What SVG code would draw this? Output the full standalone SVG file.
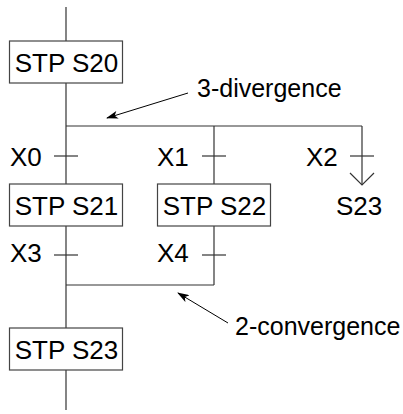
<svg xmlns="http://www.w3.org/2000/svg" width="403" height="414" viewBox="0 0 403 414">
<defs>
<style>
.ln{stroke:#333;stroke-width:1.2;fill:none}
.box{fill:#fff;stroke:#444;stroke-width:1.2}
.t{font-family:"Liberation Sans",Arial,sans-serif;font-size:26px;fill:#000}
.l{font-size:25px}
.c{text-anchor:middle}
</style>
<marker id="ah" markerWidth="12" markerHeight="8" refX="11" refY="4" orient="auto" markerUnits="userSpaceOnUse">
<path d="M0,0 L12,4 L0,8 L3,4 Z" fill="#000"/>
</marker>
</defs>
<rect width="403" height="414" fill="#fff"/>
<g id="connectors">
<line class="ln" x1="66" y1="7" x2="66" y2="41"/>
<line class="ln" x1="66" y1="83" x2="66" y2="184"/>
<line class="ln" x1="66" y1="126" x2="362" y2="126"/>
<line class="ln" x1="214" y1="126" x2="214" y2="184"/>
<line class="ln" x1="362" y1="126" x2="362" y2="185"/>
<polyline class="ln" points="350,173 362,185 374,173"/>
<line class="ln" x1="54" y1="156" x2="78" y2="156"/>
<line class="ln" x1="202" y1="156" x2="226" y2="156"/>
<line class="ln" x1="350" y1="156" x2="374" y2="156"/>
<line class="ln" x1="66" y1="226" x2="66" y2="328"/>
<line class="ln" x1="214" y1="226" x2="214" y2="285"/>
<line class="ln" x1="66" y1="285" x2="214" y2="285"/>
<line class="ln" x1="54" y1="255" x2="78" y2="255"/>
<line class="ln" x1="202" y1="255" x2="226" y2="255"/>
<line class="ln" x1="66" y1="370" x2="66" y2="410"/>
<line stroke="#000" stroke-width="1" x1="188" y1="93" x2="107" y2="118" marker-end="url(#ah)"/>
<line stroke="#000" stroke-width="1" x1="228" y1="323" x2="178" y2="293" marker-end="url(#ah)"/>
</g>
<g id="S20"><rect class="box" x="9.5" y="41" width="113" height="42"/><text class="t c" x="66.5" y="71.5">STP S20</text></g>
<g id="S21"><rect class="box" x="9.5" y="184" width="113" height="42"/><text class="t c" x="66.5" y="214.5">STP S21</text></g>
<g id="S22"><rect class="box" x="157.5" y="184" width="113" height="42"/><text class="t c" x="214.5" y="214.5">STP S22</text></g>
<g id="S23"><rect class="box" x="9.5" y="328" width="113" height="42"/><text class="t c" x="66.5" y="358.5">STP S23</text></g>
<g id="labels">
<text class="t l" x="197" y="97">3-divergence</text>
<text class="t l" x="235" y="335">2-convergence</text>
<text class="t" x="10" y="166">X0</text>
<text class="t" x="157" y="166">X1</text>
<text class="t" x="306" y="166">X2</text>
<text class="t" x="336" y="215">S23</text>
<text class="t" x="10" y="262">X3</text>
<text class="t" x="157" y="262">X4</text>
</g>
</svg>
